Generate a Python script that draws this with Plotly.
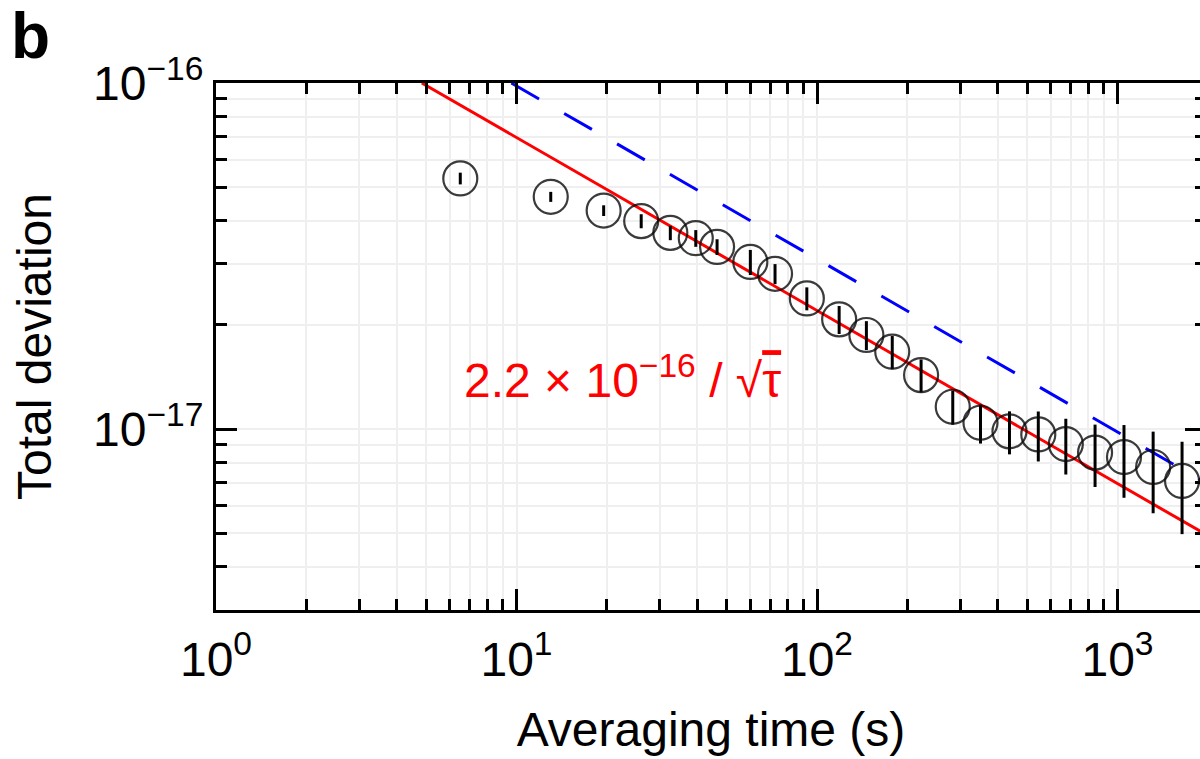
import numpy as np
import plotly.graph_objects as go

# ---- data ----
tau = [6.5, 13, 19.5, 26, 32.5, 39.5, 46.5, 60, 72.5, 92.5, 118.5, 146, 178, 222,
       283, 350, 437, 545, 673, 842, 1051, 1314, 1640]
total_dev = [5.30e-17, 4.69e-17, 4.28e-17, 3.99e-17, 3.69e-17, 3.56e-17, 3.36e-17,
             3.04e-17, 2.81e-17, 2.385e-17, 2.075e-17, 1.87e-17, 1.673e-17, 1.432e-17,
             1.16e-17, 1.043e-17, 9.85e-18, 9.65e-18, 9.05e-18, 8.55e-18, 8.30e-18,
             7.77e-18, 7.08e-18]
dev_err = [2.07e-18, 1.56e-18, 1.52e-18, 1.86e-18, 1.76e-18, 1.98e-18, 1.76e-18,
           2.53e-18, 1.87e-18, 1.82e-18, 1.93e-18, 1.80e-18, 1.84e-18, 1.57e-18,
           1.31e-18, 1.35e-18, 1.40e-18, 1.59e-18, 1.66e-18, 1.75e-18, 1.97e-18,
           2.06e-18, 2.11e-18]

red_coef = 2.2e-16
red_tau = [4.84, 2000]
blue_coef = 3.1e-16
blue_tau = [9.61, 2000]

x_major = [1, 10, 100, 1000]
x_major_text = ["10<sup>0</sup>", "10<sup>1</sup>", "10<sup>2</sup>", "10<sup>3</sup>"]
x_minor = [m * d for d in (1, 10, 100, 1000) for m in range(2, 10)]
y_major = [1e-17, 1e-16]
y_major_text = ["10<sup>\u221217</sup>", "10<sup>\u221216</sup>"]
y_minor = [m * 1e-18 for m in range(3, 10)] + [m * 1e-17 for m in range(2, 10)]

FONT = "Liberation Sans, Arial, Helvetica, sans-serif"
GRID = "#efefef"

fig = go.Figure()

fig.add_trace(go.Scatter(
    x=red_tau, y=list(red_coef / np.sqrt(np.array(red_tau))),
    mode="lines", line=dict(color="#ff0000", width=3), showlegend=False,
    hoverinfo="skip"))
fig.add_trace(go.Scatter(
    x=blue_tau, y=list(blue_coef / np.sqrt(np.array(blue_tau))),
    mode="lines", line=dict(color="#0000ff", width=3, dash="32px,29px"),
    showlegend=False, hoverinfo="skip"))
fig.add_trace(go.Scatter(
    x=tau, y=total_dev, mode="markers",
    marker=dict(symbol="circle-open", size=34, color="rgba(10,10,10,0.8)",
                line=dict(width=2.2, color="rgba(10,10,10,0.8)")),
    error_y=dict(type="data", array=dev_err, visible=True, color="black",
                 thickness=3, width=0),
    showlegend=False))

PLOT_L, PLOT_T, PLOT_B = 215.7, 83, 610
DECADE = 301.5
x_right_log = 3.2945
FIG_W = int(round(PLOT_L + x_right_log * DECADE))
FIG_H = 759

fig.update_xaxes(
    type="log", range=[0, x_right_log],
    tickmode="array", tickvals=x_major, ticktext=x_major_text,
    ticks="inside", ticklen=21, tickwidth=3, tickcolor="black",
    showline=True, linewidth=3, linecolor="black", mirror="ticks",
    showgrid=True, gridcolor=GRID, gridwidth=2, zeroline=False,
    minor=dict(tickmode="array", tickvals=x_minor, ticks="inside", ticklen=11,
               tickwidth=3, tickcolor="black", showgrid=True, gridcolor=GRID,
               gridwidth=2),
    tickfont=dict(family=FONT, size=48, color="black"),
    ticklabelstandoff=5,
    title=dict(text="Averaging time (s)", font=dict(family=FONT, size=48, color="black"),
               standoff=28),
)
fig.update_yaxes(
    type="log", range=[np.log10(3e-18), -16],
    tickmode="array", tickvals=y_major, ticktext=y_major_text,
    ticks="inside", ticklen=21, tickwidth=3, tickcolor="black",
    showline=True, linewidth=3, linecolor="black", mirror="ticks",
    showgrid=True, gridcolor=GRID, gridwidth=2, zeroline=False,
    minor=dict(tickmode="array", tickvals=y_minor, ticks="inside", ticklen=11,
               tickwidth=3, tickcolor="black", showgrid=True, gridcolor=GRID,
               gridwidth=2),
    tickfont=dict(family=FONT, size=48, color="black"),
    ticklabelstandoff=0,
    title=dict(text="Total deviation", font=dict(family=FONT, size=48, color="black"),
               standoff=27),
)

fig.add_annotation(
    x=np.log10(6.6), y=-16.85, xref="x", yref="y", xanchor="left", yanchor="middle",
    text="2.2 \u00d7 10<sup>\u221216</sup> / \u221a<span style='text-decoration:overline'>\u03c4</span>",
    showarrow=False, font=dict(family=FONT, size=48, color="#ff0000"))
plot_w = FIG_W - PLOT_L
plot_h = PLOT_B - PLOT_T
fig.add_annotation(
    x=-(PLOT_L - 8) / plot_w, y=1 + (PLOT_T - 35.5) / plot_h, xref="paper", yref="paper",
    xanchor="left", yanchor="middle", text="<b>b</b>", showarrow=False,
    font=dict(family=FONT, size=64, color="black"))

fig.update_layout(
    width=FIG_W, height=FIG_H,
    margin=dict(l=PLOT_L, r=0, t=PLOT_T, b=FIG_H - PLOT_B),
    paper_bgcolor="white", plot_bgcolor="white",
)

fig.write_html(
    "out.html",
    config={"displayModeBar": False},
    post_script="document.body.style.margin='0';document.body.style.overflow='hidden';",
)
